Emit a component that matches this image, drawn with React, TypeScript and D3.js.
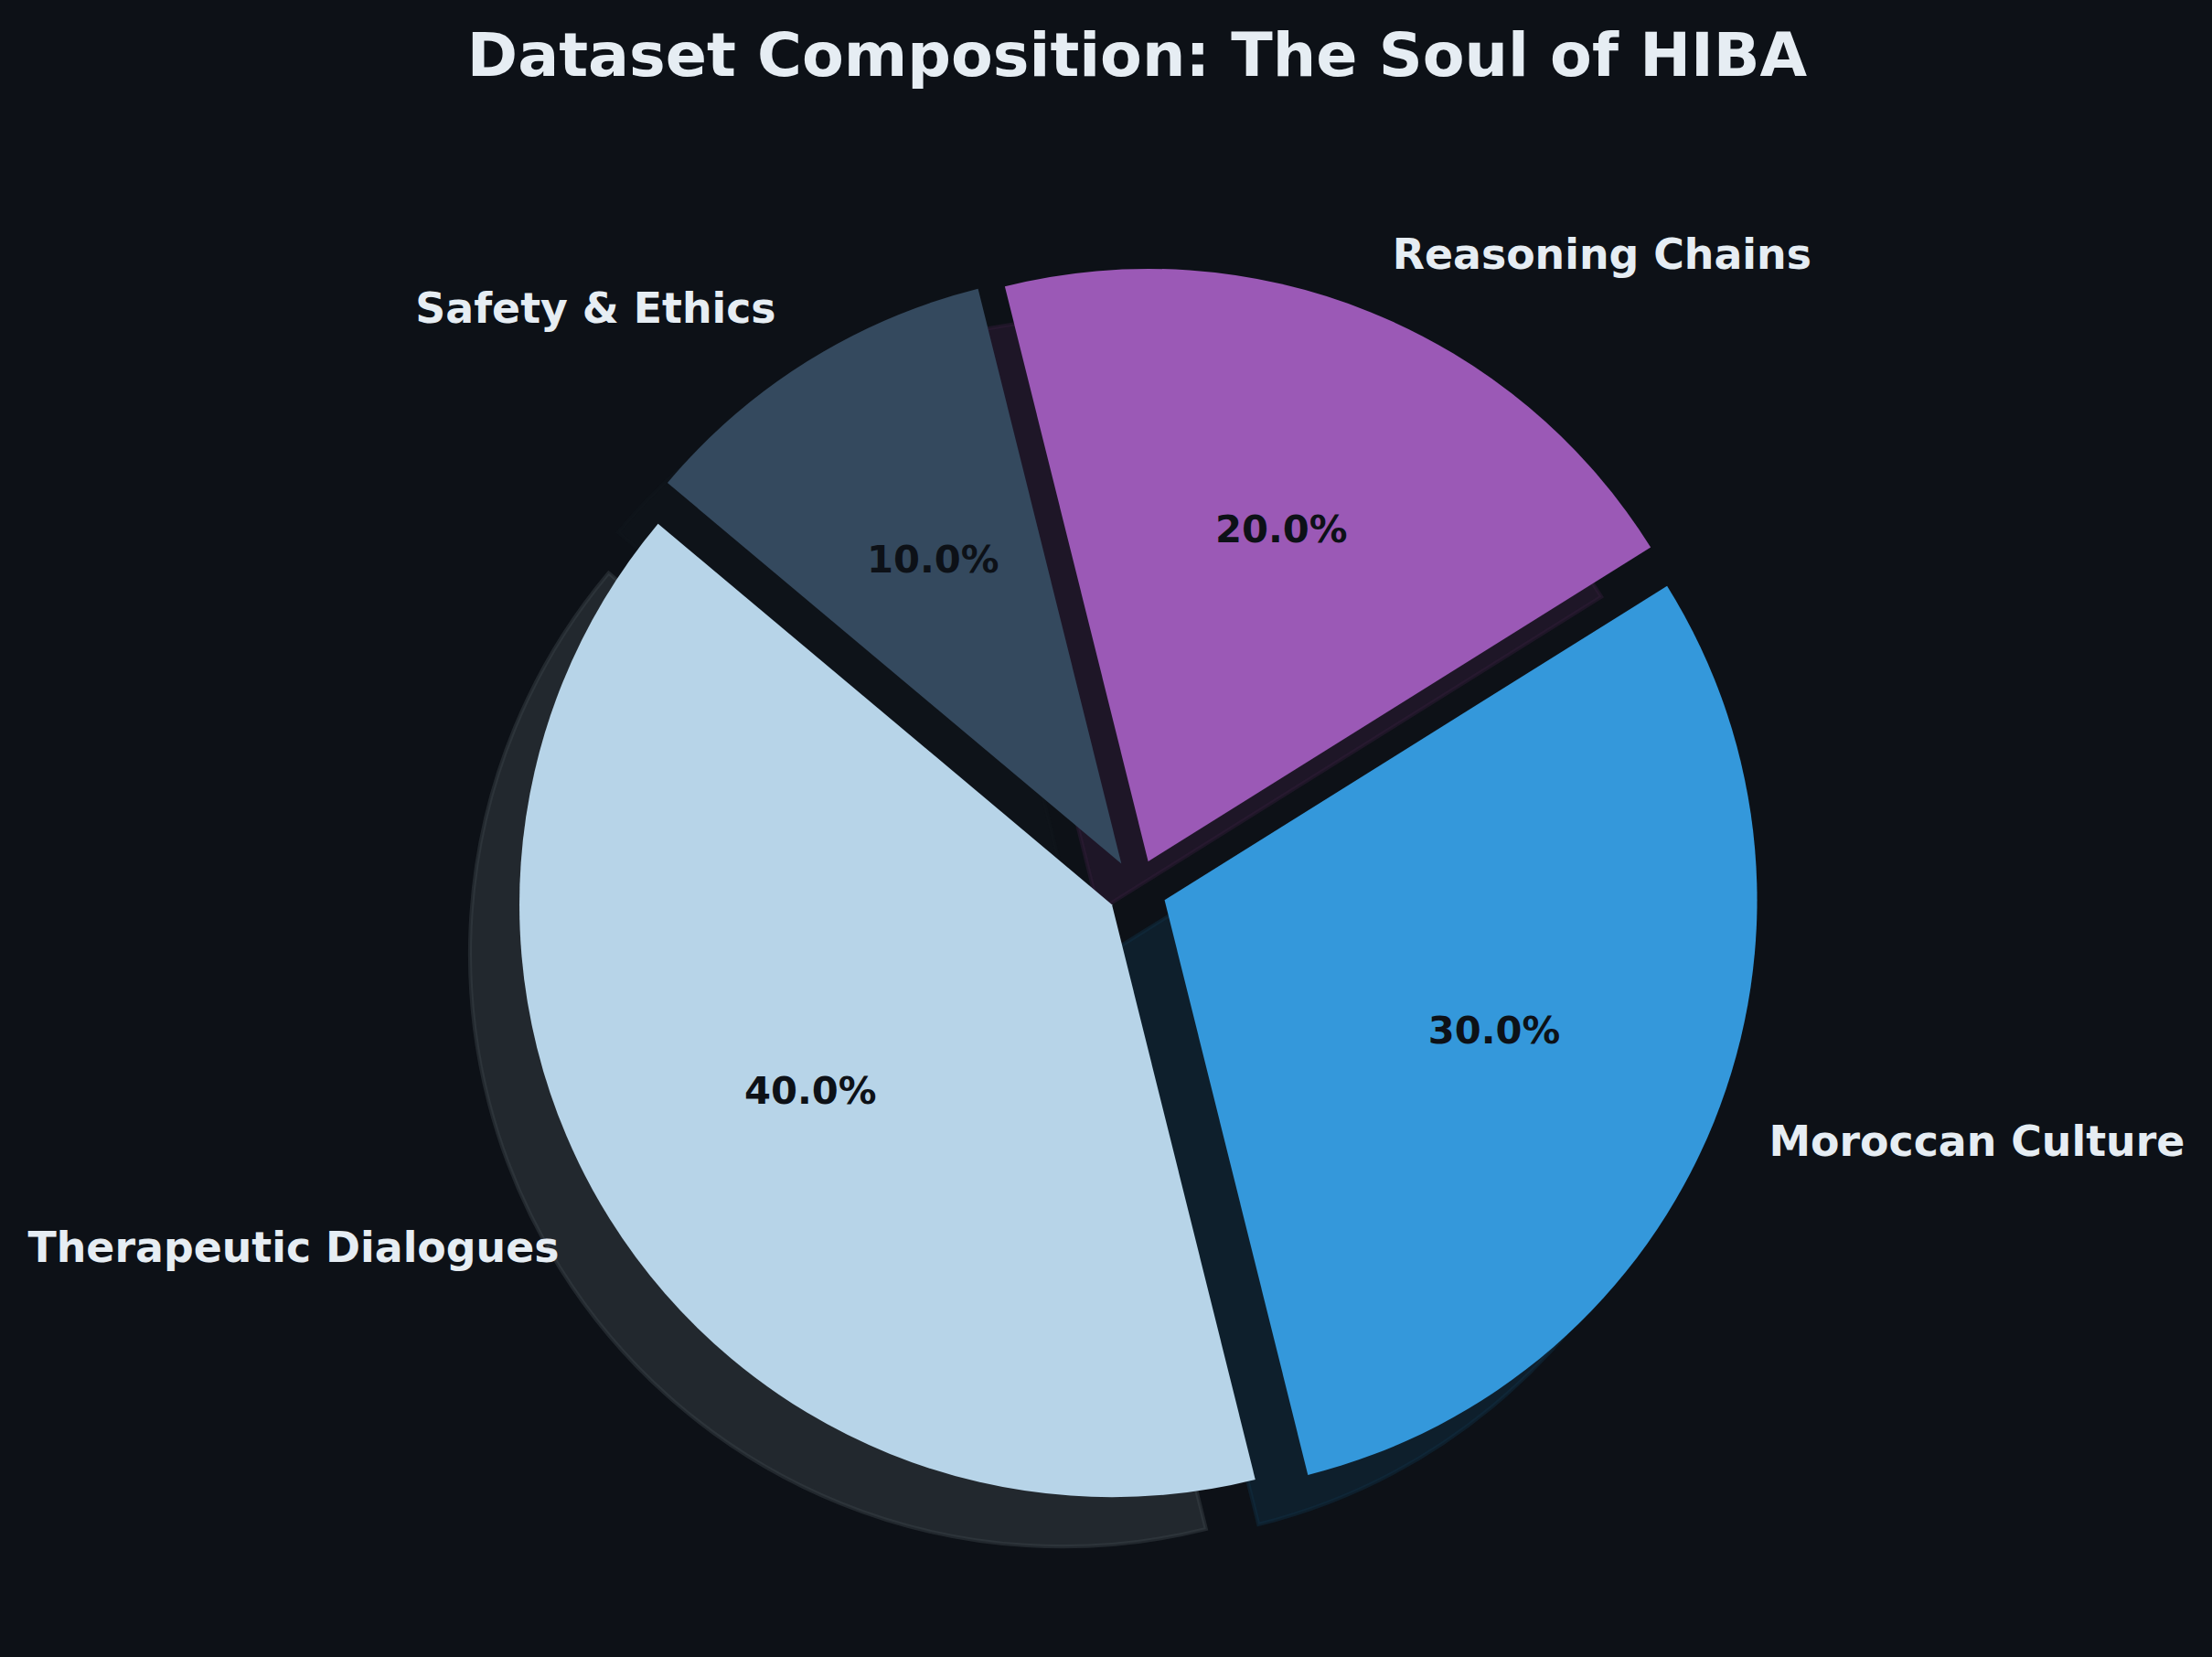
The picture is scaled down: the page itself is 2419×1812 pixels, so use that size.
import React, { useEffect } from "react";
import * as d3 from "d3";

// ---- data ----
const categories = ["Therapeutic Dialogues", "Moroccan Culture", "Reasoning Chains", "Safety & Ethics"];
const shares = [40, 30, 20, 10];
const sliceColors = ["#b7d4e8", "#3498db", "#9b59b6", "#34495e"];
const explodeFractions = [0.05, 0.05, 0.05, 0.05];
const chartTitle = "Dataset Composition: The Soul of HIBA";

// ---- layout / style ----
const W = 2419;
const H = 1812;
const BG = "#0d1117";
const TEXT = "#e6edf3";
const PCT_TEXT = "#0d1117";
const FONT = "'DejaVu Sans', Verdana, sans-serif";
const CX = 1243.5;
const CY = 972;
const R = 648;
const START_DEG = 140;
const SHADOW_OFF = 0.02 * (300 / 72) * R;
const LABEL_DIST = 1.1;
const PCT_DIST = 0.6;
const LABEL_FS = 45.8;
const PCT_FS = 41.7;
const TITLE_FS = 66.7;

export default function App() {
  useEffect(() => {
    document.body.style.margin = "0";
    document.body.style.background = BG;
  }, []);

  const total = d3.sum(shares);
  const a0 = ((90 - START_DEG) * Math.PI) / 180;
  const pie = d3
    .pie<number>()
    .sort(null)
    .value((d) => d)
    .startAngle(a0)
    .endAngle(a0 - 2 * Math.PI);
  const arcs = pie(shares);
  const arcGen = d3.arc<d3.PieArcDatum<number>>().innerRadius(0).outerRadius(R);
  const fmt = d3.format(".1f");

  const wedges = arcs.map((a, i) => {
    const mid = (a.startAngle + a.endAngle) / 2;
    const ux = Math.sin(mid);
    const uy = -Math.cos(mid);
    const ox = CX + explodeFractions[i] * R * ux;
    const oy = CY + explodeFractions[i] * R * uy;
    const base = d3.rgb(sliceColors[i]);
    const shadow = d3.rgb(base.r * 0.3, base.g * 0.3, base.b * 0.3).formatHex();
    return { a, i, ux, uy, ox, oy, path: arcGen(a) || "", shadow };
  });

  return (
    <svg width={W} height={H} viewBox={`0 0 ${W} ${H}`} style={{ display: "block", background: BG }}>
      <rect x={0} y={0} width={W} height={H} fill={BG} />
      <text
        x={CX}
        y={83}
        textAnchor="middle"
        fontFamily={FONT}
        fontWeight="bold"
        fontSize={TITLE_FS}
        fill={TEXT}
      >
        {chartTitle}
      </text>
      <g>
        {wedges.map((w) => (
          <path
            key={`s${w.i}`}
            d={w.path}
            transform={`translate(${w.ox - SHADOW_OFF},${w.oy + SHADOW_OFF})`}
            fill={w.shadow}
            fillOpacity={0.5}
            stroke={w.shadow}
            strokeOpacity={0.5}
            strokeWidth={4.2}
          />
        ))}
      </g>
      <g>
        {wedges.map((w) => (
          <path key={`w${w.i}`} d={w.path} transform={`translate(${w.ox},${w.oy})`} fill={sliceColors[w.i]} />
        ))}
      </g>
      <g>
        {wedges.map((w) => {
          const lx = w.ox + LABEL_DIST * R * w.ux;
          const ly = w.oy + LABEL_DIST * R * w.uy;
          return (
            <text
              key={`l${w.i}`}
              x={lx}
              y={ly + 0.276 * LABEL_FS}
              textAnchor={w.ux < 0 ? "end" : "start"}
              fontFamily={FONT}
              fontWeight="bold"
              fontSize={LABEL_FS}
              fill={TEXT}
            >
              {categories[w.i]}
            </text>
          );
        })}
      </g>
      <g>
        {wedges.map((w) => {
          const px = w.ox + PCT_DIST * R * w.ux;
          const py = w.oy + PCT_DIST * R * w.uy;
          return (
            <text
              key={`p${w.i}`}
              x={px}
              y={py + 0.276 * PCT_FS}
              textAnchor="middle"
              fontFamily={FONT}
              fontWeight="bold"
              fontSize={PCT_FS}
              fill={PCT_TEXT}
            >
              {fmt((shares[w.i] / total) * 100)}%
            </text>
          );
        })}
      </g>
    </svg>
  );
}
